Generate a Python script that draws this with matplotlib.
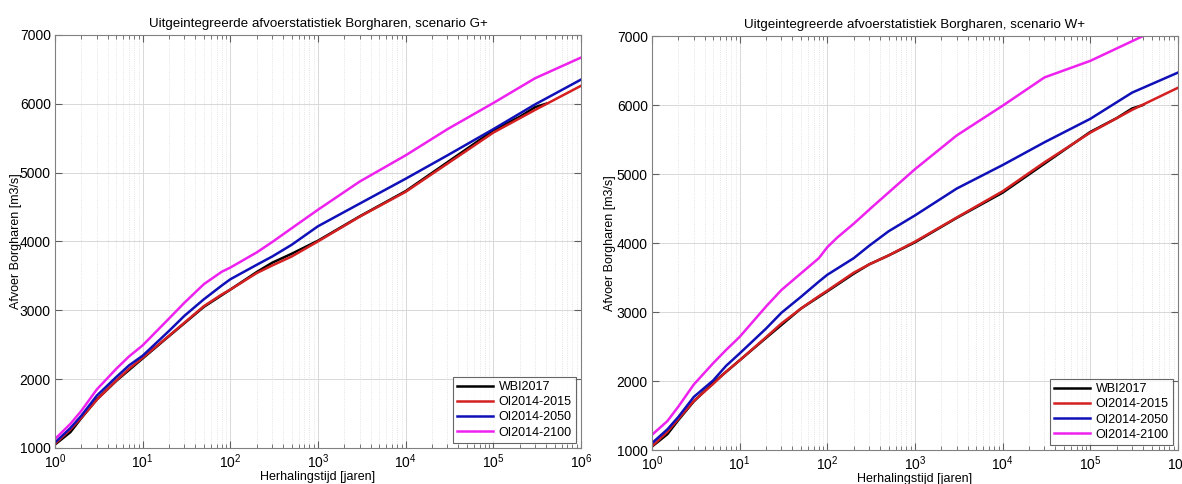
import matplotlib.pyplot as plt
import numpy as np
from matplotlib.ticker import LogLocator, FixedLocator

plt.rcParams['font.family'] = ['Liberation Sans', 'DejaVu Sans']

# herhalingstijden (jaren)
T = [1, 1.5, 2, 3, 5, 7, 10, 20, 30, 50, 80, 100, 200, 300, 500, 1000,
     3000, 1e4, 3e4, 1e5, 3e5, 1e6]

# WBI2017 (same in both panels)
T_wbi = [1, 1.5, 2, 3, 5, 10, 20, 50, 100, 200, 300, 500, 1000, 3000,
         1e4, 3e4, 1e5, 2e5, 3e5, 4e5]
q_wbi = [1050, 1230, 1435, 1705, 1975, 2300, 2625, 3050, 3300, 3555, 3690,
         3820, 4010, 4365, 4730, 5150, 5610, 5810, 5950, 6000]

# scenario G+
g_2015 = [1060, 1270, 1440, 1700, 1980, 2150, 2310, 2630, 2820, 3060, 3230,
          3300, 3540, 3650, 3780, 4000, 4360, 4720, 5130, 5580, 5910, 6260]
g_2050 = [1080, 1290, 1470, 1760, 2030, 2200, 2340, 2700, 2920, 3160, 3360,
          3450, 3660, 3780, 3950, 4220, 4550, 4910, 5250, 5630, 5990, 6350]
g_2100 = [1130, 1350, 1540, 1850, 2150, 2330, 2490, 2880, 3110, 3380, 3560,
          3620, 3840, 3990, 4190, 4460, 4870, 5250, 5630, 6010, 6370, 6670]

# scenario W+
w_2015 = [1055, 1265, 1450, 1710, 1960, 2135, 2300, 2635, 2835, 3050, 3230,
          3310, 3570, 3690, 3820, 4020, 4370, 4750, 5170, 5600, 5930, 6250]
w_2050 = [1100, 1300, 1480, 1770, 2010, 2220, 2400, 2760, 2990, 3220, 3440,
          3540, 3780, 3960, 4170, 4400, 4790, 5130, 5460, 5800, 6180, 6470]
T_w2100 = [1, 1.5, 2, 3, 5, 7, 10, 20, 30, 50, 80, 100, 130, 200, 330, 1000,
           3000, 1e4, 3e4, 1e5, 4e5]
w_2100 = [1220, 1420, 1630, 1950, 2260, 2450, 2640, 3080, 3320, 3560, 3780,
          3940, 4080, 4280, 4530, 5070, 5560, 5990, 6400, 6640, 7000]

labels = ['WBI2017', 'OI2014-2015', 'OI2014-2050', 'OI2014-2100']
colors = ['#000000', '#d42020', '#1010b8', '#ee22ee']

fig = plt.figure(figsize=(11.82, 4.84), dpi=100)
ax1 = fig.add_axes([0.0465, 0.0744, 0.445, 0.8536])
ax2 = fig.add_axes([0.5516, 0.0702, 0.445, 0.8554])


def draw(ax, title, series, ylab_x):
    for (t, q), lab, c in zip(series, labels, colors):
        ax.plot(t, q, color=c, lw=1.8, label=lab)
    ax.set_xscale('log')
    ax.set_xlim(1, 1e6)
    ax.set_ylim(1000, 7000)
    ax.yaxis.set_major_locator(FixedLocator(np.arange(1000, 7001, 1000)))
    ax.xaxis.set_major_locator(LogLocator(base=10, numticks=10))
    ax.xaxis.set_minor_locator(LogLocator(base=10, subs=np.arange(2, 10), numticks=10))
    ax.grid(True, which='major', color='#d8d8d8', lw=0.7, ls='-')
    ax.grid(True, which='minor', axis='x', color='#dcdcdc', lw=0.6, ls=':')
    ax.tick_params(which='both', direction='in', top=True, right=True,
                   labelsize=10, color='#606060', pad=3)
    ax.tick_params(which='major', length=5)
    ax.tick_params(which='minor', length=3)
    for s in ax.spines.values():
        s.set_color('#808080')
        s.set_linewidth(0.8)
    ax.set_title(title, fontsize=9.6, pad=6)
    ax.set_xlabel('Herhalingstijd [jaren]', fontsize=9, labelpad=0)
    ax.set_ylabel('Afvoer Borgharen [m3/s]', fontsize=9)
    ax.yaxis.set_label_coords(ylab_x, 0.5)
    leg = ax.legend(loc='lower right', fontsize=9, frameon=True, fancybox=False,
                    handlelength=2.9, borderpad=0.35, labelspacing=0.25,
                    handletextpad=0.4, borderaxespad=0.4)
    leg.get_frame().set_edgecolor('#404040')
    leg.get_frame().set_linewidth(0.8)


draw(ax1, 'Uitgeintegreerde afvoerstatistiek Borgharen, scenario G+',
     [(T_wbi, q_wbi), (T, g_2015), (T, g_2050), (T, g_2100)], -0.062)
draw(ax2, 'Uitgeintegreerde afvoerstatistiek Borgharen, scenario W+',
     [(T_wbi, q_wbi), (T, w_2015), (T, w_2050), (T_w2100, w_2100)], -0.068)

fig.savefig('out.png', dpi=100)
